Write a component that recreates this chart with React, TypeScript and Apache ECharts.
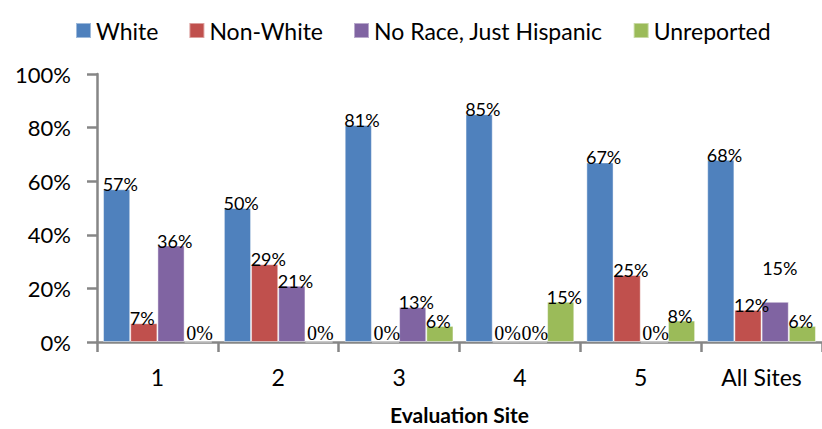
import React, { useEffect, useRef } from "react";
import * as echarts from "echarts";

const categories = ["1", "2", "3", "4", "5", "All Sites"];
const seriesNames = ["White", "Non-White", "No Race, Just Hispanic", "Unreported"];
const white = [57, 50, 81, 85, 67, 68];
const nonWhite = [7, 29, 0, 0, 25, 12];
const noRace = [36, 21, 13, 0, 0, 15];
const unreported = [0, 0, 6, 15, 8, 6];
const yTicks = [0, 20, 40, 60, 80, 100];
const colors = ["#4F81BD", "#C0504D", "#8064A2", "#9BBB59"];

export default function App() {
  const ref = useRef<HTMLDivElement>(null);
  useEffect(() => {
    document.body.style.margin = "0";
    const chart = echarts.init(ref.current!, null, { renderer: "svg" });
    const font = "Lato";
    const allData = [white, nonWhite, noRace, unreported];
    const mkSeries = (idx: number) => ({
      name: seriesNames[idx],
      type: "bar",
      barGap: "0%",
      barCategoryGap: "10%",
      itemStyle: { color: colors[idx], borderColor: "rgba(255,255,255,0.45)", borderWidth: 1 },
      label: {
        show: true,
        position: "top",
        distance: 0,
        align: "left",
        offset: [-14, 4],
        color: "#000",
        fontFamily: font,
        fontSize: 18,
        formatter: (p: any) => p.value + "%",
      },
      data: allData[idx].map((v, i) => {
        const item: any = { value: v };
        if (v === 0) {
          item.label = { fontFamily: "Liberation Serif", fontSize: 20, offset: [-12, 1] };
        }
        if (idx === 2 && i === 5) {
          item.label = { offset: [-13, -25] };
        }
        return item;
      }),
    });
    chart.setOption({
      animation: false,
      textStyle: { fontFamily: font, color: "#000" },
      legend: {
        left: 70,
        top: 14,
        itemWidth: 15,
        itemHeight: 15,
        itemGap: 30,
        icon: "rect",
        textStyle: { fontFamily: font, fontSize: 23, color: "#000" },
        data: seriesNames,
      },
      grid: {
        left: 97,
        right: 0,
        top: 74,
        bottom: 87,
        containLabel: false,
        outerBoundsMode: "none",
      },
      xAxis: {
        type: "category",
        data: categories,
        name: "Evaluation Site",
        nameLocation: "middle",
        nameGap: 62,
        nameTextStyle: { fontFamily: font, fontSize: 21, fontWeight: "bold", color: "#000" },
        axisLine: { lineStyle: { color: "#868686", width: 2.5 } },
        axisTick: { show: true, length: 10, lineStyle: { color: "#868686", width: 2.5 } },
        axisLabel: { margin: 23, fontFamily: font, fontSize: 23, color: "#000" },
      },
      yAxis: {
        type: "value",
        min: 0,
        max: 100,
        interval: 20,
        splitLine: { show: false },
        axisLine: { show: true, lineStyle: { color: "#868686", width: 2.5 } },
        axisTick: { show: true, length: 10, lineStyle: { color: "#868686", width: 2.5 } },
        axisLabel: {
          margin: 26,
          fontFamily: font,
          fontSize: 22,
          color: "#000",
          formatter: (v: number) => (yTicks.includes(v) ? v + "%" : ""),
        },
      },
      series: [0, 1, 2, 3].map(mkSeries),
    });
    return () => chart.dispose();
  }, []);
  return (
    <div
      ref={ref}
      style={{ position: "fixed", left: 0, top: 0, width: 822, height: 429, background: "#fff" }}
    />
  );
}
